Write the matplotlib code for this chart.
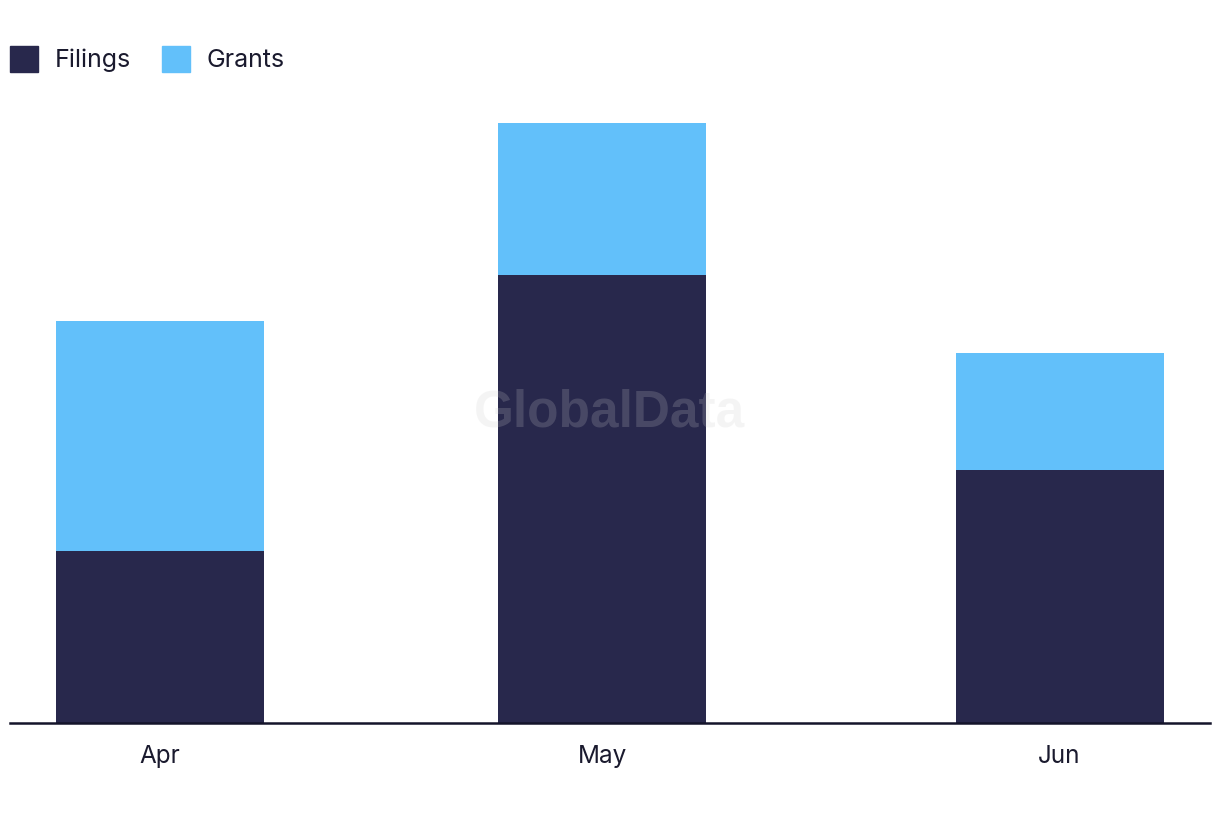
import matplotlib
matplotlib.use("Agg")
import matplotlib.pyplot as plt
import matplotlib.dates as mdates
from matplotlib.patches import Patch
import datetime as dt

# data
months = [dt.date(2023, 4, 1), dt.date(2023, 5, 1), dt.date(2023, 6, 1)]
month_labels = ["Apr", "May", "Jun"]
filings = [15, 39, 22]
grants = [20, 13.2, 10.2]

dark = "#28284c"
light = "#62c0fa"

plt.rcParams['font.family'] = ['Inter', 'DejaVu Sans']

fig = plt.figure(figsize=(12.2, 8.22), dpi=100)
ax = fig.add_axes([10/1220, (822-723)/822, 1200/1220, 623/822])

x = mdates.date2num(months)
ax.bar(x, filings, width=14.1, color=dark, label="Filings")
ax.bar(x, grants, width=14.1, bottom=filings, color=light, label="Grants")

ax.set_xlim(x[0] - 10.17, x[0] + 71.2)
ax.set_ylim(0, 54.2)
ax.set_xticks(x)
ax.set_xticklabels(month_labels, fontsize=17.5, color="#1a1a2e")
ax.tick_params(axis='x', length=0, pad=16)
ax.set_yticks([])
for s in ["top", "right", "left"]:
    ax.spines[s].set_visible(False)
ax.spines["bottom"].set_color("#14142a")
ax.spines["bottom"].set_linewidth(1.8)

handles = [Patch(color=dark, label="Filings"), Patch(color=light, label="Grants")]
fig.legend(handles=handles, loc="upper left", bbox_to_anchor=(10/1220, 1 - 46/822),
           ncol=2, frameon=False, fontsize=18, handlelength=1.12, handleheight=1.2,
           handletextpad=0.68, columnspacing=1.22, borderpad=0, borderaxespad=0,
           labelcolor="#1a1a2e")

fig.text(610/1220, 1 - 413/822, "GlobalData", fontsize=37, fontweight="bold",
         family="Liberation Sans", color="#cccccc", alpha=0.2,
         ha="center", va="center", zorder=10)

fig.savefig("out.png", dpi=100)
